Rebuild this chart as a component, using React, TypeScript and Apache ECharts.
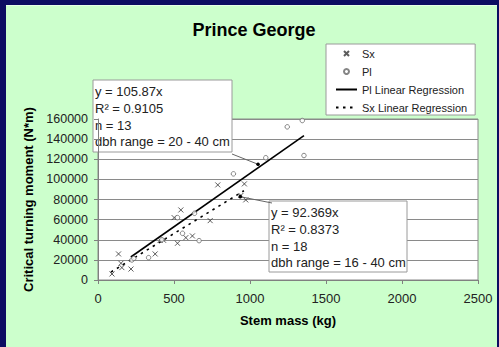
import React, { useEffect, useRef } from "react";
import * as echarts from "echarts";

// ---- data ----
const xTickStep = 500;
const yTickStep = 20000;

const sxMass = [92, 135, 151, 157, 217, 376, 409, 431, 501, 523, 545, 578, 621, 738, 788, 940, 963, 972];
const sxMoment = [6000, 25900, 16600, 12300, 10900, 25900, 39500, 39500, 62000, 36500, 69600, 42100, 43800, 59000, 94500, 84000, 95500, 79600];

const plMass = [223, 236, 333, 420, 523, 556, 635, 665, 891, 1104, 1245, 1344, 1355];
const plMoment = [19900, 21500, 22200, 40000, 62000, 46400, 66300, 39100, 105500, 121500, 152200, 158500, 123700];

const plTrendMass = [216, 1355];
const plTrendMoment = [22870, 143450];
const sxTrendMass = [85, 960];
const sxTrendMoment = [7850, 88670];

const plLabelLines = ["y = 105.87x", "R\u00b2 = 0.9105", "n = 13", "dbh range = 20 - 40 cm"];
const sxLabelLines = ["y = 92.369x", "R\u00b2 = 0.8373", "n = 18", "dbh range = 16 - 40 cm"];
const plLeaderTarget = [1053, 115000];
const sxLeaderTarget = [936, 82800];

const FONT = "'Liberation Sans', Arial, Helvetica, sans-serif";

function zip(a: number[], b: number[]) {
  return a.map((v, i) => [v, b[i]]);
}

function labelBox(x: number, y: number, w: number, h: number, lines: string[], ys: number[]) {
  return {
    type: "group",
    children: [
      {
        type: "rect",
        shape: { x, y, width: w, height: h },
        style: { fill: "#ffffff", stroke: "#9a9a9a", lineWidth: 1 },
      },
      ...lines.map((t, i) => ({
        type: "text",
        x: x + 2,
        y: ys[i],
        style: {
          text: t,
          fontFamily: FONT,
          fontSize: 13,
          fill: "#222",
          verticalAlign: "middle",
          align: "left",
        },
      })),
    ],
  };
}

export default function App() {
  const ref = useRef<HTMLDivElement>(null);

  useEffect(() => {
    const el = ref.current;
    if (!el) return;
    const chart = echarts.init(el, undefined, { renderer: "svg" });
    const sxPath = "path://M0,0L10,10M10,0L0,10";
    const hiddenSymbol = { opacity: 0, color: "transparent", borderWidth: 0 };
    const option: any = {
      animation: false,
      backgroundColor: "transparent",
      title: {
        text: "Prince George",
        left: 254,
        top: 21,
        padding: 0,
        textAlign: "center",
        textStyle: { fontFamily: FONT, fontSize: 18, fontWeight: "bold", color: "#000" },
      },
      legend: {
        orient: "vertical",
        left: 326,
        top: 44,
        padding: [3, 8, 1, 9],
        itemWidth: 21,
        itemHeight: 5,
        itemGap: 5,
        backgroundColor: "#ffffff",
        borderColor: "#9a9a9a",
        borderWidth: 1,
        borderRadius: 0,
        textStyle: { fontFamily: FONT, fontSize: 11, color: "#222", lineHeight: 13 },
        data: [
          { name: "Sx" },
          { name: "Pl" },
          { name: "Pl Linear Regression", itemStyle: hiddenSymbol },
          { name: "Sx Linear Regression", itemStyle: hiddenSymbol },
        ],
      },
      grid: {
        left: 98,
        right: 21,
        top: 119,
        bottom: 67,
        show: true,
        backgroundColor: "#ffffff",
        borderColor: "#8a8a8a",
        borderWidth: 1,
      },
      xAxis: {
        type: "value",
        min: 0,
        max: 2500,
        interval: xTickStep,
        name: "Stem mass (kg)",
        nameLocation: "middle",
        nameGap: 34,
        nameTextStyle: { fontFamily: FONT, fontSize: 13, fontWeight: "bold", color: "#000" },
        axisLine: { show: true, lineStyle: { color: "#808080", width: 1 } },
        axisTick: { show: true, inside: false, length: 4, lineStyle: { color: "#808080" } },
        axisLabel: {
          fontFamily: FONT,
          fontSize: 13,
          color: "#222",
          margin: 12,
          formatter: (v: number) => String(v),
        },
        splitLine: { show: false },
      },
      yAxis: {
        type: "value",
        min: 0,
        max: 160000,
        interval: yTickStep,
        name: "Critical turning moment (N*m)",
        nameLocation: "middle",
        nameGap: 54,
        nameTextStyle: { fontFamily: FONT, fontSize: 13, fontWeight: "bold", color: "#000" },
        axisLine: { show: true, lineStyle: { color: "#808080", width: 1 } },
        axisTick: { show: true, inside: false, length: 4, lineStyle: { color: "#808080" } },
        axisLabel: {
          fontFamily: FONT,
          fontSize: 12.5,
          color: "#222",
          margin: 10,
          formatter: (v: number) => String(v),
        },
        splitLine: { show: true, lineStyle: { color: "#8a8a8a", width: 1 } },
      },
      series: [
        {
          name: "Sx",
          type: "scatter",
          symbol: sxPath,
          symbolSize: 5,
          data: zip(sxMass, sxMoment),
          itemStyle: { color: "none", borderColor: "#333", borderWidth: 1 },
          z: 4,
        },
        {
          name: "Pl",
          type: "scatter",
          symbol: "circle",
          symbolSize: 4.5,
          data: zip(plMass, plMoment),
          itemStyle: { color: "#ffffff", borderColor: "#666", borderWidth: 1 },
          z: 4,
        },
        {
          name: "Pl Linear Regression",
          type: "line",
          symbol: "none",
          showSymbol: false,
          data: zip(plTrendMass, plTrendMoment),
          lineStyle: { color: "#000", width: 1.6, type: "solid" },
          itemStyle: { color: "#000" },
          z: 3,
        },
        {
          name: "Sx Linear Regression",
          type: "line",
          symbol: "none",
          showSymbol: false,
          data: zip(sxTrendMass, sxTrendMoment),
          lineStyle: { color: "#000", width: 1.6, type: [2.5, 4.5] },
          itemStyle: { color: "#000" },
          z: 3,
        },
      ],
    };
    chart.setOption(option);

    const p1 = chart.convertToPixel({ gridIndex: 0 }, plLeaderTarget) as number[];
    const p2 = chart.convertToPixel({ gridIndex: 0 }, sxLeaderTarget) as number[];

    chart.setOption({
      graphic: [
        {
          type: "line",
          shape: { x1: 232, y1: 154, x2: p1[0], y2: p1[1] },
          style: { stroke: "#666", lineWidth: 1 },
          z: 10,
        },
        { type: "circle", shape: { cx: p1[0], cy: p1[1], r: 1.8 }, style: { fill: "#000" }, z: 10 },
        {
          type: "line",
          shape: { x1: 272, y1: 203, x2: p2[0], y2: p2[1] },
          style: { stroke: "#666", lineWidth: 1 },
          z: 10,
        },
        { type: "circle", shape: { cx: p2[0], cy: p2[1], r: 1.8 }, style: { fill: "#000" }, z: 10 },
        { ...labelBox(93, 80, 139, 72, plLabelLines, [91, 108, 125, 141]), z: 11 },
        { ...labelBox(269, 201, 138, 71, sxLabelLines, [212, 229, 246, 262]), z: 11 },
      ],
    });

    return () => chart.dispose();
  }, []);

  return (
    <div
      style={{
        position: "fixed",
        left: 0,
        top: 0,
        width: 499,
        height: 347,
        background: "#0c0c62",
        overflow: "hidden",
      }}
    >
      <div
        style={{
          position: "absolute",
          left: 6,
          top: 5,
          width: 491,
          height: 342,
          background: "#ccffcc",
          borderTop: "1px solid #e6ffe6",
          boxSizing: "border-box",
        }}
      />
      <div ref={ref} style={{ position: "absolute", left: 0, top: 0, width: 499, height: 347 }} />
    </div>
  );
}
